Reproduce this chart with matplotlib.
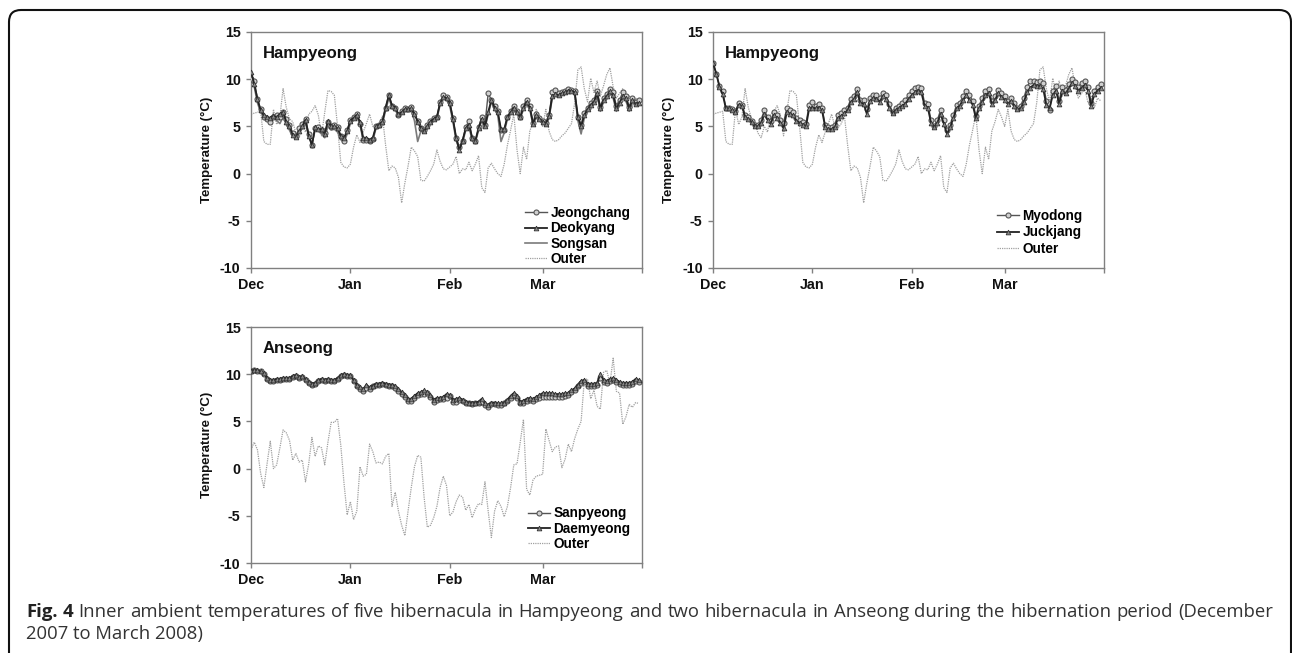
import matplotlib
matplotlib.use("Agg")
import matplotlib.pyplot as plt
from matplotlib.patches import FancyBboxPatch
import numpy as np

plt.rcParams["axes.unicode_minus"] = False

# ---- data: daily values, 1 Dec 2007 .. 31 Mar 2008 ----
month_ticks = [0, 31, 62, 91, 122]
month_labels = ["Dec", "Jan", "Feb", "Mar", ""]

outer_hampyeong = [
    6.3, 6.4, 6.5, 6.6, 3.4, 3.1, 3.1, 6.8, 5.2, 6.0,
    9.0, 7.0, 5.8, 5.5, 4.3, 3.8, 5.0, 4.4, 6.3, 6.6,
    7.2, 6.2, 4.0, 6.5, 8.8, 8.7, 8.3, 5.0, 1.2, 0.7,
    0.6, 1.0, 2.8, 4.1, 3.3, 4.4, 5.3, 6.3, 5.0, 4.8,
    5.3, 6.1, 3.0, 0.3, 0.8, 0.6, -0.4, -3.1, -1.0, 0.8,
    2.8, 2.4, 1.8, -0.7, -0.8, -0.3, 0.3, 1.0, 2.5, 1.3,
    0.5, 0.4, 0.7, 1.0, 1.8, 0.0, 0.5, 0.4, 1.2, 0.3,
    1.0, 1.9, -1.5, -2.0, 0.6, 1.1, 0.5, 0.0, -0.3, 1.0,
    3.0, 4.6, 6.3, 2.5, 0.0, 2.8, 1.5, 4.5, 5.5, 6.8,
    6.0, 5.0, 6.8, 4.5, 3.6, 3.4, 3.6, 4.0, 4.3, 4.8,
    5.3, 7.5, 11.0, 11.3, 9.0, 7.6, 10.1, 8.6, 9.8, 8.2,
    9.3, 10.5, 11.2, 9.2, 8.0, 8.5, 9.0, 7.5, 8.2, 7.0,
    8.0, 7.7,
]

jeongchang = [
    10.0, 9.8, 7.9, 6.8, 6.0, 5.8, 5.5, 6.0, 6.2, 6.0,
    6.5, 5.8, 5.2, 4.3, 4.0, 4.8, 5.3, 5.8, 4.2, 3.0,
    4.8, 4.9, 4.6, 4.3, 5.5, 5.0, 5.2, 4.9, 4.0, 3.5,
    4.6, 5.7, 6.0, 6.3, 5.3, 3.6, 3.6, 3.5, 3.7, 5.0,
    5.2, 5.6, 7.0, 8.3, 7.2, 7.0, 6.2, 6.6, 6.9, 6.8,
    7.1, 6.4, 5.6, 4.8, 4.6, 5.1, 5.6, 5.9, 6.0, 7.6,
    8.3, 8.1, 7.6, 5.9, 3.8, 2.8, 3.5, 4.9, 5.6, 3.8,
    3.4, 4.9, 6.0, 5.2, 8.5, 7.8, 7.2, 6.6, 4.6, 4.6,
    6.0, 6.6, 7.2, 6.6, 6.0, 7.2, 7.8, 7.2, 5.4, 6.3,
    5.9, 5.6, 5.4, 6.2, 8.6, 8.9, 8.5, 8.6, 8.8, 9.0,
    8.9, 8.7, 6.0, 5.2, 6.4, 7.0, 7.5, 7.8, 8.8, 7.1,
    8.0, 8.4, 9.0, 8.6, 7.2, 7.8, 8.6, 8.2, 7.1, 8.0,
    7.6, 7.8,
]

deokyang = [
    10.8, 9.5, 7.9, 6.7, 6.2, 6.0, 5.9, 6.1, 6.0, 6.3,
    6.5, 5.5, 5.0, 4.1, 3.9, 4.5, 5.0, 5.7, 4.0, 3.0,
    4.9, 4.7, 4.7, 4.2, 5.6, 5.0, 5.0, 4.8, 4.0, 3.8,
    4.5, 5.6, 5.9, 6.2, 5.5, 3.8, 3.8, 3.6, 3.8, 5.0,
    5.2, 5.5, 7.0, 8.3, 7.2, 7.0, 6.3, 6.5, 6.8, 6.8,
    6.9, 6.3, 5.5, 4.8, 4.5, 5.0, 5.5, 5.8, 6.0, 7.5,
    8.1, 8.0, 7.5, 5.8, 3.8, 2.5, 3.5, 4.8, 5.2, 3.8,
    3.5, 4.8, 5.8, 5.0, 6.5, 7.8, 7.0, 6.5, 4.7, 4.7,
    6.0, 6.5, 7.0, 6.5, 6.0, 7.0, 7.6, 7.0, 5.3, 6.2,
    5.8, 5.5, 5.3, 6.1, 8.2, 8.4, 8.3, 8.5, 8.6, 8.8,
    8.8, 8.6, 6.0, 5.0, 6.2, 6.8, 7.3, 7.6, 8.5, 6.9,
    7.8, 8.2, 8.7, 8.3, 6.9, 7.5, 8.2, 8.0, 6.9, 7.8,
    7.4, 7.5,
]

songsan = [
    10.5, 9.2, 7.5, 6.5, 6.0, 5.6, 5.8, 6.3, 5.6, 5.3,
    6.0, 5.2, 4.6, 3.9, 3.7, 4.3, 4.8, 5.4, 3.9, 3.2,
    4.6, 4.5, 4.2, 3.8, 5.0, 4.6, 4.7, 4.4, 3.6, 3.3,
    4.2, 5.3, 5.7, 6.0, 5.2, 3.5, 3.4, 3.3, 3.5, 4.8,
    5.0, 5.3, 6.7, 8.0, 7.0, 6.8, 6.0, 6.3, 6.6, 6.6,
    6.7, 5.6, 3.4, 4.5, 4.3, 4.7, 5.3, 5.6, 5.8, 7.3,
    7.9, 7.8, 7.2, 5.5, 3.5, 2.6, 3.3, 4.6, 5.0, 3.5,
    3.3, 4.6, 5.6, 4.8, 6.3, 7.6, 6.8, 6.2, 3.4, 4.3,
    5.8, 6.3, 6.8, 6.3, 5.8, 6.8, 7.4, 6.8, 5.1, 6.0,
    5.6, 5.3, 5.1, 5.9, 8.0, 8.2, 8.1, 8.3, 8.4, 8.6,
    8.6, 8.4, 5.6, 4.2, 5.9, 6.6, 7.0, 7.4, 8.3, 6.6,
    7.6, 8.0, 8.5, 8.0, 6.6, 7.3, 8.0, 7.7, 6.6, 7.5,
    7.2, 7.3,
]

myodong = [
    11.7, 10.6, 9.3, 8.7, 7.0, 6.9, 6.8, 6.6, 7.5, 7.3,
    6.2, 6.0, 5.6, 5.1, 5.2, 5.7, 6.7, 6.0, 5.6, 6.5,
    6.2, 5.7, 5.4, 6.9, 6.7, 6.5, 5.9, 5.7, 5.5, 5.3,
    7.3, 7.6, 7.2, 7.4, 7.0, 5.1, 4.9, 4.9, 5.2, 6.2,
    6.4, 6.7, 7.0, 7.9, 8.2, 9.0, 7.8, 7.8, 6.8, 8.0,
    8.3, 8.3, 8.0, 8.5, 8.3, 7.4, 6.5, 7.0, 7.2, 7.5,
    7.8, 8.3, 8.8, 9.1, 9.2, 9.1, 7.5, 7.4, 5.7, 5.0,
    5.7, 6.7, 5.7, 4.6, 5.2, 6.2, 7.3, 7.5, 8.2, 8.8,
    8.3, 7.7, 6.1, 7.2, 8.0, 8.8, 9.0, 7.7, 8.2, 8.9,
    8.5, 8.2, 7.7, 8.0, 7.5, 7.0, 7.2, 8.0, 9.2, 9.8,
    9.8, 9.7, 9.8, 9.6, 7.7, 6.7, 8.8, 9.3, 7.7, 9.2,
    8.9, 9.5, 10.0, 9.7, 9.2, 9.6, 9.8, 9.2, 7.5, 8.8,
    9.2, 9.5,
]

juckjang = [
    11.7, 10.6, 9.2, 8.4, 6.9, 6.9, 6.7, 6.5, 7.3, 7.2,
    6.0, 5.8, 5.5, 5.0, 5.0, 5.4, 6.3, 5.7, 5.3, 6.2,
    5.9, 5.4, 4.8, 6.5, 6.3, 6.2, 5.6, 5.4, 5.2, 5.0,
    6.9, 7.0, 6.9, 7.0, 6.7, 4.9, 4.7, 4.7, 4.9, 5.9,
    6.1, 6.4, 6.7, 7.6, 7.9, 8.6, 7.5, 7.4, 6.3, 7.7,
    8.0, 7.9, 7.6, 8.2, 7.9, 7.0, 6.4, 6.7, 6.9, 7.2,
    7.4, 7.9, 8.3, 8.6, 8.8, 8.6, 7.2, 7.0, 5.4, 4.9,
    5.4, 6.3, 5.3, 4.2, 4.9, 5.9, 6.9, 7.2, 7.8, 8.3,
    7.8, 7.3, 5.9, 6.9, 7.6, 8.3, 8.5, 7.4, 7.8, 8.5,
    8.1, 7.8, 7.4, 7.7, 7.2, 6.8, 6.9, 7.6, 8.6, 9.1,
    9.4, 9.3, 9.3, 9.0, 7.3, 6.9, 8.3, 8.8, 7.4, 8.7,
    8.5, 9.0, 9.6, 9.3, 8.8, 9.1, 9.4, 8.8, 7.2, 8.4,
    8.8, 9.1,
]

outer_anseong = [
    2.0, 2.8, 2.0, -0.5, -2.0, 0.5, 2.9, 0.0, 0.4, 2.2,
    4.1, 3.8, 3.0, 0.9, 1.6, 0.7, 0.9, -1.4, 0.5, 3.3,
    1.3, 2.4, 2.2, 0.4, 2.8, 4.9, 4.9, 5.3, 2.5, -1.5,
    -4.9, -3.5, -5.4, -4.5, 0.2, -0.8, -0.6, 2.6, 1.8, 0.6,
    0.7, 0.5, 1.3, 1.6, -4.0, -2.5, -4.5, -6.0, -7.1, -4.5,
    -2.0, 0.2, 1.4, 1.2, -3.0, -6.2, -6.0, -5.2, -4.0, -2.0,
    -0.8, -1.8, -5.0, -4.6, -3.5, -2.8, -3.0, -4.4, -3.8, -5.2,
    -4.3, -3.7, -3.8, -1.4, -4.5, -7.3, -4.5, -3.4, -4.0, -5.1,
    -4.0, -2.0, 0.4, 0.5, 2.8, 5.2, -2.2, -2.8, -1.2, -0.8,
    -0.7, -0.6, 4.2, 3.0, 1.8, 2.3, 2.4, 0.1, 1.0, 2.6,
    1.8, 3.2, 4.2, 5.0, 9.4, 9.5, 7.4, 8.3, 6.6, 6.3,
    10.2, 10.4, 9.0, 11.7, 8.2, 8.0, 4.7, 5.5, 6.8, 6.5,
    7.0, 6.9,
]

sanpyeong = [
    10.3, 10.4, 10.3, 10.3, 10.0, 9.5, 9.3, 9.3, 9.4, 9.4,
    9.5, 9.5, 9.5, 9.7, 9.8, 9.6, 9.7, 9.4, 9.1, 8.9,
    9.0, 9.3, 9.4, 9.3, 9.4, 9.3, 9.3, 9.5, 9.8, 9.9,
    9.8, 9.8, 9.3, 8.8, 8.4, 8.2, 8.5, 8.4, 8.7, 8.9,
    8.9, 9.0, 8.9, 8.8, 8.8, 8.5, 8.2, 7.9, 7.6, 7.2,
    7.2, 7.5, 7.8, 7.9, 7.9, 8.0, 7.6, 7.1, 7.3, 7.4,
    7.4, 7.5, 7.7, 7.1, 7.1, 7.3, 7.2, 6.9, 6.9, 6.8,
    6.9, 6.9, 7.1, 6.7, 6.5, 6.8, 6.8, 6.7, 6.7, 6.9,
    7.2, 7.5, 7.8, 7.5, 6.9, 7.0, 7.2, 7.3, 7.2, 7.4,
    7.5, 7.6, 7.6, 7.6, 7.6, 7.6, 7.6, 7.6, 7.7, 7.8,
    8.1, 8.3, 8.7, 9.1, 9.2, 8.8, 8.8, 8.8, 8.9, 9.6,
    9.2, 9.1, 9.3, 9.4, 9.2, 9.0, 8.9, 8.9, 8.9, 9.0,
    9.3, 9.2,
]

daemyeong = [
    10.3, 10.5, 10.4, 10.3, 10.1, 9.6, 9.4, 9.4, 9.5, 9.5,
    9.6, 9.6, 9.6, 9.8, 9.9, 9.7, 9.8, 9.5, 9.2, 9.0,
    9.1, 9.4, 9.5, 9.4, 9.5, 9.4, 9.4, 9.6, 9.9, 10.0,
    9.9, 9.9, 9.4, 8.9, 8.6, 8.4, 8.9, 8.6, 8.8, 9.0,
    9.0, 9.1, 9.0, 8.9, 8.9, 8.7, 8.4, 8.1, 7.8, 7.4,
    7.4, 7.7, 8.0, 8.1, 8.3, 8.1, 7.8, 7.3, 7.5, 7.5,
    7.6, 7.9, 7.8, 7.3, 7.4, 7.5, 7.3, 7.1, 7.0, 7.0,
    7.0, 7.1, 7.4, 6.9, 6.7, 7.0, 7.0, 6.9, 6.9, 7.0,
    7.3, 7.7, 8.0, 7.7, 7.1, 7.2, 7.4, 7.5, 7.4, 7.6,
    7.8, 8.0, 8.0, 8.0, 8.0, 7.9, 7.9, 7.9, 8.0, 8.0,
    8.3, 8.5, 8.9, 9.3, 9.4, 9.0, 9.0, 9.0, 9.1, 10.0,
    9.4, 9.3, 9.5, 9.6, 9.4, 9.2, 9.1, 9.1, 9.1, 9.2,
    9.5, 9.4,
]

caption_line1 = ("Inner ambient temperatures of five hibernacula in Hampyeong and two "
                 "hibernacula in Anseong during the hibernation period (December")
caption_line2 = "2007 to March 2008)"

days = np.arange(len(outer_hampyeong))

BOLD = "Liberation Sans"
GRAY = "#808080"
W, H = 1292, 653


def style_axes(ax, title):
    ax.set_xlim(0, 122)
    ax.set_ylim(-10, 15)
    ax.set_yticks([-10, -5, 0, 5, 10, 15])
    ax.set_xticks(month_ticks)
    ax.set_xticklabels(month_labels)
    for s in ax.spines.values():
        s.set_color(GRAY)
        s.set_linewidth(1.0)
    ax.tick_params(axis="both", colors=GRAY, length=3.5, width=1.0,
                   labelcolor="#111111", labelsize=10.3, pad=4)
    for lab in ax.get_xticklabels() + ax.get_yticklabels():
        lab.set_fontfamily(BOLD)
        lab.set_fontweight("bold")
    ax.set_ylabel("Temperature (\u00b0C)", family=BOLD, weight="bold",
                  fontsize=9.5, color="#111111", labelpad=5)
    ax.text(0.03, 0.91, title, transform=ax.transAxes, family=BOLD,
            weight="bold", fontsize=12, color="#111111", va="center")


def add_legend(ax, x0, y0, spacing):
    ax.legend(loc="lower right", bbox_to_anchor=(x0, y0), frameon=False,
              prop={"family": BOLD, "weight": "bold", "size": 9.8},
              handlelength=1.6, handletextpad=0.25, labelspacing=spacing,
              borderpad=0, borderaxespad=0, numpoints=1)


def outer_line(ax, y):
    ax.plot(days, y, color="#a0a0a0", lw=0.9, ls=(0, (1, 0.8)), label="Outer",
            zorder=1)


def circle_line(ax, y, label):
    ax.plot(days, y, color="#555555", lw=1.0, marker="o", ms=3.6,
            mfc="#d0d0d0", mec="#555555", mew=0.8, label=label, zorder=3)


def triangle_line(ax, y, label):
    ax.plot(days, y, color="#222222", lw=1.3, marker="^", ms=3.4,
            mfc="#888888", mec="#333333", mew=0.6, label=label, zorder=4)


fig = plt.figure(figsize=(W / 100, H / 100), dpi=100)

ax1 = fig.add_axes([0.1943, 0.5896, 0.3026, 0.3614])
circle_line(ax1, jeongchang, "Jeongchang")
triangle_line(ax1, deokyang, "Deokyang")
ax1.plot(days, songsan, color="#7a7a7a", lw=1.2, label="Songsan", zorder=2)
outer_line(ax1, outer_hampyeong)
style_axes(ax1, "Hampyeong")
add_legend(ax1, 0.97, 0.008, 0.1)

ax2 = fig.add_axes([0.5519, 0.5896, 0.3026, 0.3614])
circle_line(ax2, myodong, "Myodong")
triangle_line(ax2, juckjang, "Juckjang")
outer_line(ax2, outer_hampyeong)
style_axes(ax2, "Hampyeong")
add_legend(ax2, 0.945, 0.05, 0.2)

ax3 = fig.add_axes([0.1943, 0.1378, 0.3026, 0.3614])
circle_line(ax3, sanpyeong, "Sanpyeong")
triangle_line(ax3, daemyeong, "Daemyeong")
outer_line(ax3, outer_anseong)
style_axes(ax3, "Anseong")
add_legend(ax3, 0.97, 0.05, 0.1)

# rounded frame around the figure (open at the bottom)
frame = FancyBboxPatch((0.09, -0.6), 12.82, 7.03,
                       boxstyle="round,pad=0,rounding_size=0.12",
                       transform=fig.dpi_scale_trans, fill=False,
                       edgecolor="#111111", lw=1.5)
fig.patches.append(frame)

# caption, first line justified between x=26 and x=1273
cap_size = 13.3
fig.canvas.draw()
renderer = fig.canvas.get_renderer()
tokens = [("Fig.", True), ("4", True)] + [(w, False) for w in caption_line1.split()]
texts = []
for word, bold in tokens:
    t = fig.text(0, 1 - 617 / H, word, family="Open Sans",
                 weight="bold" if bold else "normal", fontsize=cap_size,
                 color="#222222" if bold else "#333333", va="baseline")
    texts.append(t)
widths = [t.get_window_extent(renderer).width for t in texts]
x_start, x_end = 26, 1273
gap = (x_end - x_start - sum(widths)) / (len(texts) - 1)
x = x_start
for t, w in zip(texts, widths):
    t.set_x(x / W)
    x += w + gap
fig.text(x_start / W, 1 - 639 / H, caption_line2, family="Open Sans",
         fontsize=cap_size, color="#333333", va="baseline")

fig.savefig("out.png", dpi=100)
